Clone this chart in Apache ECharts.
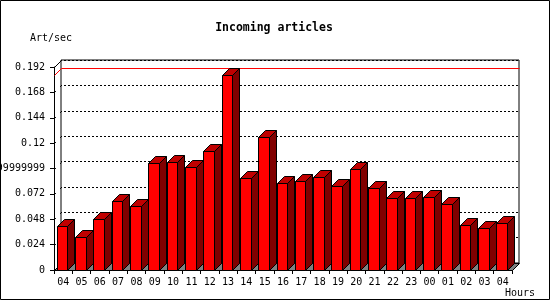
<!DOCTYPE html>
<html><head><meta charset="utf-8">
<script src="https://cdn.jsdelivr.net/npm/echarts@6/dist/echarts.min.js"></script>
<style>html,body{margin:0;padding:0;background:#fff}#c{width:550px;height:300px}</style>
</head><body><div id="c"></div>
<script>
const hours = ['04','05','06','07','08','09','10','11','12','13','14','15','16','17','18','19','20','21','22','23','00','01','02','03','04'];
const artPerSec = [0.0414,0.0310,0.0480,0.0651,0.0603,0.1011,0.1020,0.0973,0.1124,0.1847,0.0871,0.1257,0.0821,0.0840,0.0878,0.0793,0.0954,0.0774,0.0679,0.0679,0.0689,0.0622,0.0423,0.0395,0.0442];
const yTickLabels = ['0','0.024','0.048','0.072','0.09599999999','0.12','0.144','0.168','0.192'];
const yStep = 0.024;
const yMax = 0.192;
const titleText = 'Incoming articles';
const yName = 'Art/sec';
const xName = 'Hours';

const FONT = 'DejaVu Sans Mono';
const D = 7;
const G = {left: 54, top: 67, width: 458, height: 203};
const maxVal = Math.max.apply(null, artPerSec);

const chart = echarts.init(document.getElementById('c'), null, {renderer: 'canvas'});

function px(v){ return Math.round(v) + 0.5; }

function renderWalls(params, api){
  if (params.dataIndex !== 0) return;
  const cs = params.coordSys;
  const gx = px(cs.x), gw = cs.width;
  const yb = px(api.coord([0, 0])[1]);
  const children = [];
  for (let k = 1; k < yTickLabels.length; k++) {
    const y = px(api.coord([0, k * yStep])[1]);
    children.push({type: 'line', shape: {x1: gx, y1: y, x2: gx + D, y2: y - D},
      style: {stroke: '#000', lineWidth: 1, lineDash: k === yTickLabels.length - 1 ? null : [2, 6]}});
  }
  const ym = px(api.coord([0, maxVal])[1]);
  children.push({type: 'polyline', shape: {points: [[gx, ym], [gx + D, ym - D], [gx + gw + D, ym - D]]},
    style: {stroke: '#ff0000', lineWidth: 1, fill: null}});
  children.push({type: 'polygon', shape: {points: [[gx, yb], [gx + D, yb - D], [px(cs.x + gw) + D, yb - D], [px(cs.x + gw), yb]]},
    style: {fill: '#808080', stroke: '#000', lineWidth: 1}});
  return {type: 'group', children: children};
}

function renderBar(params, api){
  const i = api.value(0), v = api.value(1);
  const slot = api.size([1, 0])[0];
  const c0 = api.coord([i, 0]);
  const c1 = api.coord([i, v]);
  const start = c0[0] - slot / 2;
  const x0 = px(start + 2.7), x1 = px(start + 13.3);
  const yB = px(c0[1]), yT = px(c1[1]);
  const st = {stroke: '#000', lineWidth: 1};
  return {type: 'group', children: [
    {type: 'polygon', shape: {points: [[x1, yT], [x1 + D, yT - D], [x1 + D, yB - D], [x1, yB]]}, style: Object.assign({fill: '#800000'}, st)},
    {type: 'polygon', shape: {points: [[x0, yT], [x0 + D, yT - D], [x1 + D, yT - D], [x1, yT]]}, style: Object.assign({fill: '#c00000'}, st)},
    {type: 'polygon', shape: {points: [[x0, yT], [x1, yT], [x1, yB], [x0, yB]]}, style: Object.assign({fill: '#ff0000'}, st)}
  ]};
}

const option = {
  animation: false,
  backgroundColor: '#fff',
  grid: [
    {left: G.left, top: G.top, width: G.width, height: G.height, containLabel: false, outerBoundsMode: 'none'},
    {left: G.left + D, top: G.top - D, width: G.width, height: G.height, containLabel: false, outerBoundsMode: 'none',
     show: true, borderColor: '#000', borderWidth: 1, backgroundColor: 'transparent', z: 0}
  ],
  xAxis: [
    {type: 'category', gridIndex: 0, data: hours, boundaryGap: true,
     axisLine: {lineStyle: {color: '#000', width: 1}},
     axisTick: {show: true, interval: 0, length: 4, lineStyle: {color: '#000'}},
     axisLabel: {interval: 0, color: '#000', fontFamily: FONT, fontSize: 10, margin: 7, hideOverlap: false},
     splitLine: {show: false}},
    {type: 'category', gridIndex: 1, data: hours, show: false}
  ],
  yAxis: [
    {type: 'value', gridIndex: 0, min: 0, max: yMax, interval: yStep,
     axisLine: {show: true, lineStyle: {color: '#000', width: 1}},
     axisTick: {show: true, length: 4, lineStyle: {color: '#000'}},
     axisLabel: {color: '#000', fontFamily: FONT, fontSize: 10, margin: 9, hideOverlap: false,
       formatter: function(v){ return yTickLabels[Math.round(v / yStep)]; }},
     splitLine: {show: false}},
    {type: 'value', gridIndex: 1, min: 0, max: yMax, interval: yStep,
     axisLine: {show: false}, axisTick: {show: false}, axisLabel: {show: false},
     splitLine: {show: true, lineStyle: {color: '#000', width: 1, type: [2, 2], dashOffset: -3}}}
  ],
  series: [
    {type: 'custom', xAxisIndex: 0, yAxisIndex: 0, z: 1, renderItem: renderWalls, data: [[0, 0]], silent: true},
    {type: 'custom', xAxisIndex: 0, yAxisIndex: 0, z: 2, renderItem: renderBar,
     data: hours.map(function(h, i){ return [i, artPerSec[i]]; }), silent: true}
  ],
  graphic: [
    {type: 'rect', shape: {x: 0.5, y: 0.5, width: 549, height: 299}, style: {fill: null, stroke: '#000', lineWidth: 1}, z: 100, silent: true},
    {type: 'text', x: 274, y: 28, style: {text: titleText, font: 'bold 11.5px "' + FONT + '"', fill: '#000', align: 'center', verticalAlign: 'middle'}},
    {type: 'text', x: 30, y: 38.5, style: {text: yName, font: '10px "' + FONT + '"', fill: '#000', align: 'left', verticalAlign: 'middle'}},
    {type: 'text', x: 505, y: 293, style: {text: xName, font: '10px "' + FONT + '"', fill: '#000', align: 'left', verticalAlign: 'middle'}}
  ]
};
chart.setOption(option);
</script>
</body></html>
